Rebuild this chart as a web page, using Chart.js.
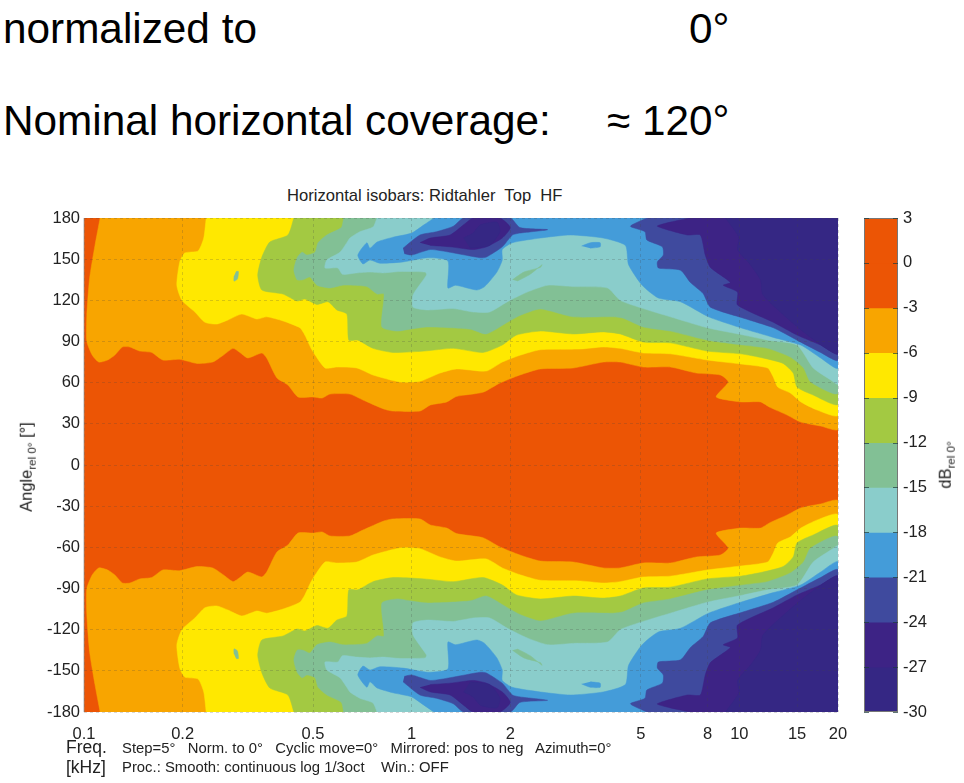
<!DOCTYPE html>
<html>
<head>
<meta charset="utf-8">
<script src="https://cdn.jsdelivr.net/npm/chart.js@4"></script>
<style>
body { margin: 0; background: #fff; font-family: "Liberation Sans", Arial, sans-serif; color: #222; }
#page { position: relative; width: 964px; height: 783px; overflow: hidden; }
canvas { position: absolute; }
.txt { position: absolute; white-space: pre; line-height: 1; }
.big { font-size: 42.3px; color: #000; }
.rot { transform: translate(-50%, -50%) rotate(-90deg); }
.rot sub { font-size: 70%; vertical-align: -0.35em; line-height: 0; }
</style>
</head>
<body>
<div id="page">
  <span class="txt big" style="left:3px;top:8px">normalized to</span>
  <span class="txt big" style="left:689px;top:8px">0°</span>
  <span class="txt big" style="left:3px;top:100px">Nominal horizontal coverage:</span>
  <span class="txt big" style="left:607px;top:100px">≈ 120°</span>
  <span class="txt" style="left:287px;top:188px;font-size:16.6px">Horizontal isobars: Ridtahler  Top  HF</span>
  <canvas id="contour_canvas" width="964" height="783" style="left:0;top:0"></canvas>
  <canvas id="bar_canvas" width="114" height="530" style="left:850px;top:200px"></canvas>
  <span class="txt rot" style="left:26px;top:467px;font-size:16.5px">Angle<sub>rel 0°</sub> [°]</span>
  <span class="txt rot" style="left:945px;top:465px;font-size:16.5px">dB<sub>rel 0°</sub></span>
  <span class="txt" style="left:66px;top:739px;font-size:17.5px">Freq.</span>
  <span class="txt" style="left:66px;top:759px;font-size:17.5px">[kHz]</span>
  <span class="txt" style="left:122px;top:741px;font-size:14.85px">Step=5°   Norm. to 0°   Cyclic move=0°   Mirrored: pos to neg   Azimuth=0°</span>
  <span class="txt" style="left:122px;top:760px;font-size:14.85px">Proc.: Smooth: continuous log 1/3oct    Win.: OFF</span>
</div>
<script>
// level colours, top of the colour bar down
barLevels = [3, 0, -3, -6, -9, -12, -15, -18, -21, -24, -27, -30];
barColors = ['#EC5505', '#EC5505', '#F8A500', '#FFE800', '#A3C942', '#82C095', '#8ACDCB', '#449CD9', '#3F4A9E', '#3D2385', '#352784'];

freqTicks = [0.1, 0.2, 0.5, 1, 2, 5, 8, 10, 15, 20];
angleTicks = [-180, -150, -120, -90, -60, -30, 0, 30, 60, 90, 120, 150, 180];

// isobars for the positive angles as [kHz, degrees], the plot is mirrored pos to neg
below0 = [[0.1, 0], [0.1, 180], [20, 180], [20, 0]];
below3 = [[0.112,180],[0.108,160],[0.104,136],[0.102,109],[0.102,90],[0.106,80],[0.111,75],[0.118,76.5],[0.124,80],[0.131,86],[0.138,86],[0.148,83],[0.161,82],[0.174,76.5],[0.196,77],[0.221,74],[0.247,75],[0.266,80],[0.285,85],[0.299,82],[0.316,78],[0.349,81.6],[0.361,78],[0.388,63.4],[0.419,58.3],[0.45,49.6],[0.5,49.6],[0.533,48.8],[0.563,51.7],[0.648,51.7],[0.71,47.4],[0.822,40.8],[0.877,39.3],[1.06,39.3],[1.14,43.7],[1.28,46],[1.37,50],[1.65,53],[1.86,59.8],[2.14,65.6],[2.47,70],[3.11,70.7],[3.84,75],[4.33,75],[5.09,71.4],[6.16,71.4],[7.4,67],[8.75,65.6],[9.25,60.5],[8.5,49.6],[10.1,46],[11.6,46],[12.4,42],[14,36.4],[15.4,31.3],[17.7,28.4],[20,26.2],[20,180]];
below6 = [[0.236,180],[0.232,165.4],[0.223,156],[0.203,154.5],[0.196,148],[0.192,131],[0.199,120],[0.218,111.5],[0.234,104],[0.254,102.7],[0.275,105.7],[0.303,110],[0.337,106.4],[0.361,108],[0.405,105],[0.456,100],[0.472,94.7],[0.496,84],[0.544,70.7],[0.591,71.4],[0.68,70.7],[0.762,65.6],[0.921,60.5],[1.06,61],[1.22,67],[1.37,70],[1.69,68.5],[1.89,75],[2.14,80],[2.47,84],[3.27,84.5],[3.84,86],[4.33,85],[5.09,81.6],[6.16,81],[7.98,76.5],[10.1,73.6],[12.2,70.7],[12.7,64],[13.1,56.8],[14.3,52.5],[15.4,46],[17.3,40],[20,36.4],[20,180]];
below9 = [[0.437,180],[0.419,167.6],[0.369,162.5],[0.349,151.5],[0.339,138.5],[0.349,127.5],[0.405,124.6],[0.447,119.5],[0.472,121],[0.514,117],[0.555,119],[0.591,113],[0.634,110],[0.643,91],[0.685,91],[0.762,85],[0.877,82],[1.09,83],[1.34,85],[1.65,82],[1.89,87.4],[2.09,94.7],[2.47,97.6],[3.11,95.5],[3.84,97],[4.33,95.5],[5.09,89.6],[6.16,89],[7.98,83],[10.1,81],[11.8,78],[13.6,74],[14.6,67],[15,56.8],[16.8,51],[20,44.5],[20,180]];
spot9 = [[0.291,141],[0.296,141],[0.294,135.5],[0.287,134],[0.287,137.7]];
below12 = [[0.62,180],[0.61,173],[0.551,167.6],[0.518,162],[0.507,155],[0.479,153],[0.463,155],[0.447,151],[0.437,142],[0.447,135],[0.466,135],[0.489,137],[0.514,131],[0.563,129],[0.615,131],[0.66,131],[0.73,130],[0.784,124.6],[0.823,124.6],[0.811,100.6],[0.902,97.6],[0.988,99],[1.12,100.6],[1.51,99],[1.69,95.5],[1.96,104],[2.14,109],[2.47,113.7],[3.11,108],[4.12,108],[4.42,107],[5.09,100.6],[6.16,97.6],[7.98,91],[10.3,87.4],[12.2,85],[14.3,78.7],[15.7,70.7],[16.5,60.5],[20,52.5],[20,180]];
below15 = [[0.784,180],[0.762,173.4],[0.695,170],[0.648,165.4],[0.634,162],[0.604,155],[0.551,149.4],[0.544,143.6],[0.595,143.6],[0.615,139],[0.68,140],[0.746,140.6],[0.816,140],[0.921,141],[1.1,140.6],[1.11,138.5],[1.01,124],[1.01,115],[1.12,113],[1.34,114],[1.54,111.5],[1.73,111.5],[1.96,119],[2.25,126],[2.6,131],[3.11,130],[3.96,129],[4.33,120],[5.09,114],[6.16,108],[7.98,100],[10.3,94.7],[12.2,91],[15,87.4],[16.8,70.7],[19,62],[20,59],[20,180]];
spot12 = [[2.03,135],[2.2,140.6],[2.47,144],[2.5,146],[2.3,139],[2.1,134]];
below18 = [[1.17,180],[1.09,175],[1,169],[0.877,166],[0.784,162.5],[0.746,158],[0.73,162],[0.685,153],[0.71,146.5],[0.746,149.4],[0.8,147],[0.941,148],[1.12,151],[1.29,148.7],[1.29,129],[1.36,131],[1.58,127.5],[1.67,130],[1.82,140.6],[1.89,149.4],[1.89,157],[2.03,162],[2.47,165.4],[3.05,167.6],[3.84,165.4],[4.49,160],[4.59,146],[5.05,131],[5.66,121.7],[6.61,119],[8.05,108],[10.1,100],[12.7,93],[15.4,87.4],[17.7,78],[20,70.7],[20,180]];
spot18 = [[3.3,159.6],[3.51,162],[3.76,162],[3.76,159],[3.51,158]];
below21a = [[0.941,158],[1.06,167.6],[1.19,170],[1.34,174],[1.44,180],[2,180],[2.14,173],[2.6,171.5],[2.14,169],[2.03,167.6],[1.89,159],[1.69,151.5],[1.62,151],[1.31,155],[1.14,157],[1,153],[0.95,154]];
below21b = [[5.22,180],[4.65,174],[5.15,170],[5.22,164],[5.82,159],[5.86,153],[5.62,148],[5.66,143.6],[6.61,142],[7.09,133],[7.75,125],[8.16,115],[10.3,107],[12.7,100],[15,91],[17.7,82],[20,76.5],[20,180]];
below24a = [[1.06,162],[1.14,165.4],[1.31,167.6],[1.44,175],[1.54,180],[1.86,180],[2,173],[1.89,165.4],[1.69,159],[1.54,157],[1.31,159],[1.14,160]];
below24b = [[7.09,180],[6.16,177],[5.62,174],[6.94,167.6],[7.6,167.6],[7.87,153],[8.16,144],[9.39,133],[8.93,131],[9.87,126],[9.87,116.6],[12.7,104],[15,94.7],[17.7,87.4],[20,81],[20,180]];
below27a = [[1.44,165.4],[1.54,169],[1.62,175],[1.82,177],[1.86,170],[1.73,160],[1.51,158]];
below27b = [[9.07,180],[9.97,166],[9.87,157],[10.8,146],[11.6,135],[11.8,124],[14,107],[16.5,93],[20,81.6],[20,180]];

// painted in this order, later ones cover earlier ones
regions = [
    [below0, '#EC5505'],
    [below3, '#F8A500'],
    [below6, '#FFE800'],
    [below9, '#A3C942'],
    [spot9, '#82C095'],
    [below12, '#82C095'],
    [below15, '#8ACDCB'],
    [spot12, '#82C095'],
    [below18, '#449CD9'],
    [spot18, '#449CD9'],
    [below21a, '#3F4A9E'],
    [below21b, '#3F4A9E'],
    [below24a, '#3D2385'],
    [below24b, '#3D2385'],
    [below27a, '#352784'],
    [below27b, '#352784']
];

function regionDataset(points, color, sign) {
    return {
        data: points.map(function(p) { return {x: p[0], y: sign * p[1]}; }),
        showLine: true,
        fill: 'shape',
        tension: points === below0 ? 0 : 0.2,
        backgroundColor: color,
        borderColor: color,
        borderWidth: 0.5,
        pointRadius: 0
    };
}

// chart.js paints the first dataset last, so the list goes in reversed
var datasets = [];
regions.forEach(function(r) {
    datasets.unshift(regionDataset(r[0], r[1], 1));
    datasets.unshift(regionDataset(r[0], r[1], -1));
});

const tickFont = {family: 'Liberation Sans', size: 16.5};
const gridStyle = {color: 'rgba(70,70,70,0.22)', lineWidth: 1, z: 1, drawTicks: false, tickLength: 0};

const plotFrame = {
    id: 'plotFrame',
    afterDraw(chart) {
        const a = chart.chartArea;
        chart.ctx.save();
        chart.ctx.strokeStyle = 'rgba(150,150,150,0.7)';
        chart.ctx.lineWidth = 1;
        chart.ctx.beginPath();
        chart.ctx.moveTo(a.left, a.top);
        chart.ctx.lineTo(a.left, a.bottom);
        chart.ctx.stroke();
        chart.ctx.restore();
    }
};

new Chart(document.getElementById('contour_canvas'), {
    type: 'scatter',
    data: {datasets: datasets},
    options: {
        responsive: false,
        animation: false,
        events: [],
        layout: {padding: {top: 218, right: 126, left: 0, bottom: 0}},
        plugins: {legend: {display: false}, tooltip: {enabled: false}},
        scales: {
            x: {
                type: 'logarithmic',
                min: 0.1,
                max: 20,
                afterFit: function(axis) { axis.height = 71; },
                afterBuildTicks: function(axis) {
                    axis.ticks = freqTicks.map(function(v) { return {value: v}; });
                },
                ticks: {
                    autoSkip: false,
                    maxRotation: 0,
                    padding: 13,
                    color: '#222',
                    font: tickFont,
                    callback: function(v) { return String(v); }
                },
                grid: gridStyle,
                border: {display: false, dash: [3, 3]}
            },
            y: {
                min: -180,
                max: 180,
                afterFit: function(axis) { axis.width = 84; },
                afterBuildTicks: function(axis) {
                    axis.ticks = angleTicks.map(function(v) { return {value: v}; });
                },
                ticks: {autoSkip: false, padding: 4, color: '#222', font: tickFont},
                grid: gridStyle,
                border: {display: false, dash: [3, 3]}
            }
        }
    },
    plugins: [plotFrame]
});

// colour bar
var barSets = barColors.map(function(c, i) {
    return {
        data: [[barLevels[i + 1], barLevels[i]]],
        backgroundColor: c,
        borderWidth: 0,
        grouped: false,
        barPercentage: 1,
        categoryPercentage: 1
    };
});

const barFrame = {
    id: 'barFrame',
    afterDraw(chart) {
        const ctx = chart.ctx;
        const a = chart.chartArea;
        const y = chart.scales.y;
        ctx.save();
        ctx.strokeStyle = '#777';
        ctx.lineWidth = 1;
        ctx.strokeRect(a.left + 0.5, a.top + 0.5, a.right - a.left - 1, a.bottom - a.top - 1);
        ctx.strokeStyle = 'rgba(30,60,60,0.7)';
        y.ticks.forEach(function(t) {
            var p = Math.round(y.getPixelForValue(t.value)) + 0.5;
            ctx.beginPath();
            ctx.moveTo(a.left, p); ctx.lineTo(a.left + 5, p);
            ctx.moveTo(a.right - 5, p); ctx.lineTo(a.right, p);
            ctx.stroke();
        });
        ctx.restore();
    }
};

new Chart(document.getElementById('bar_canvas'), {
    type: 'bar',
    data: {labels: ['dB'], datasets: barSets},
    options: {
        responsive: false,
        animation: false,
        events: [],
        layout: {padding: {top: 18, bottom: 18, left: 14, right: 0}},
        plugins: {legend: {display: false}, tooltip: {enabled: false}},
        scales: {
            x: {display: false},
            y: {
                position: 'right',
                min: -30,
                max: 3,
                afterFit: function(axis) { axis.width = 66; },
                afterBuildTicks: function(axis) {
                    axis.ticks = barLevels.map(function(v) { return {value: v}; });
                },
                ticks: {autoSkip: false, padding: 5, color: '#222', font: tickFont},
                grid: {display: false, drawTicks: false, tickLength: 0},
                border: {display: false}
            }
        }
    },
    plugins: [barFrame]
});
</script>
</body>
</html>
